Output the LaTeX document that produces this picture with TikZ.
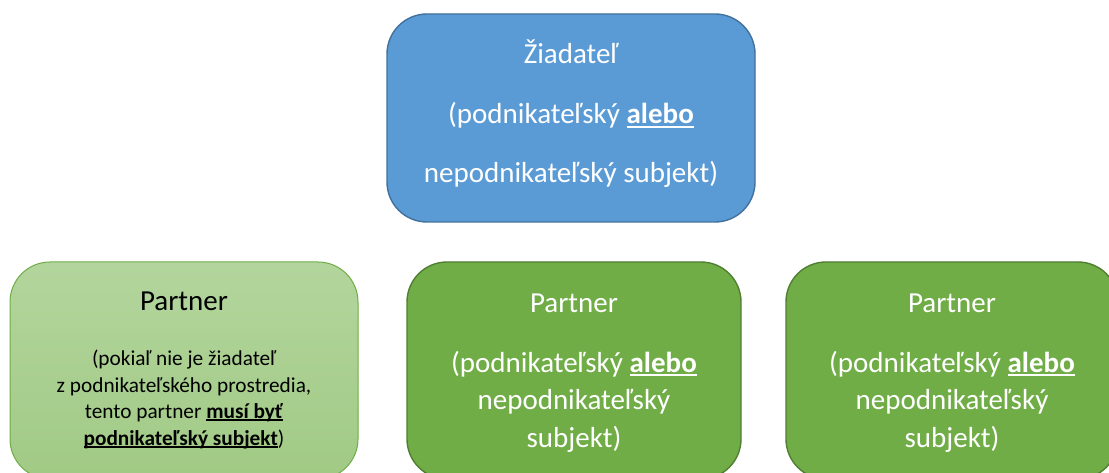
\documentclass[tikz,border=0pt]{standalone}
\usepackage{fontspec}
\setmainfont{Carlito}
\newsavebox\ulinebox
\newcommand{\myuline}[1]{\sbox\ulinebox{#1}\rlap{\rule[-0.13em]{\wd\ulinebox}{0.065em}}\usebox\ulinebox}
\definecolor{bluefill}{HTML}{5B9BD5}
\definecolor{blueline}{HTML}{41719C}
\definecolor{greenfill}{HTML}{70AD47}
\definecolor{greenline}{HTML}{507E32}
\definecolor{lgtop}{HTML}{B3D59D}
\definecolor{lgbot}{HTML}{A1CA85}
\definecolor{lgline}{HTML}{70AD47}
\begin{document}
\begin{tikzpicture}[x=1pt,y=1pt,
  boxbase/.style={rectangle, rounded corners=40pt, inner sep=0pt},
  bluebox/.style={boxbase, draw=blueline, fill=bluefill, line width=1.4pt},
  greenbox/.style={boxbase, draw=greenline, fill=greenfill, line width=1.4pt},
  lightbox/.style={boxbase, draw=lgline, top color=lgtop, bottom color=lgbot, line width=1pt},
  bigtext/.style={anchor=base, inner sep=0pt, font=\fontsize{29}{35}\selectfont},
  smalltext/.style={anchor=base, inner sep=0pt, font=\fontsize{21.3}{27}\selectfont},
  wtext/.style={bigtext, text=white},
  ktext/.style={bigtext, text=black}]
\clip (0,0) rectangle (1109,472);
\fill[white] (0,0) rectangle (1109,472);

% boxes
\node[bluebox, minimum width=368pt, minimum height=208pt] (zia) at (571,354) {};
\node[lightbox, minimum width=348pt, minimum height=217pt] (p1) at (184,101.5) {};
\node[greenbox, minimum width=334pt, minimum height=217pt] (p2) at (574,101.5) {};
\node[greenbox, minimum width=332pt, minimum height=217pt] (p3) at (952,101.5) {};

% top box text
\node[wtext] (z1) at (571,408) {Žiadateľ};
\node[wtext] (z2) at (571,348) {(podnikateľský \myuline{\textbf{alebo}}};
\node[wtext] (z3) at (571,289) {nepodnikateľský subjekt)};

% left box text
\node[ktext] (a1) at (184,161) {Partner};
\node[smalltext] (a2) at (184,107) {(pokiaľ nie je žiadateľ};
\node[smalltext] (a3) at (184,80) {z podnikateľského prostredia,};
\node[smalltext] (a4) at (184,54) {tento partner \myuline{\textbf{musí byť}}};
\node[smalltext] (a5) at (184,27) {\myuline{\textbf{podnikateľský subjekt}})};

% middle box text
\node[wtext] (b1) at (574,160) {Partner};
\node[wtext] (b2) at (574,100) {(podnikateľský \myuline{\textbf{alebo}}};
\node[wtext] (b3) at (574,63) {nepodnikateľský};
\node[wtext] (b4) at (574,25) {subjekt)};

% right box text
\node[wtext] (c1) at (952,160) {Partner};
\node[wtext] (c2) at (952,100) {(podnikateľský \myuline{\textbf{alebo}}};
\node[wtext] (c3) at (952,63) {nepodnikateľský};
\node[wtext] (c4) at (952,25) {subjekt)};
\end{tikzpicture}
\end{document}
